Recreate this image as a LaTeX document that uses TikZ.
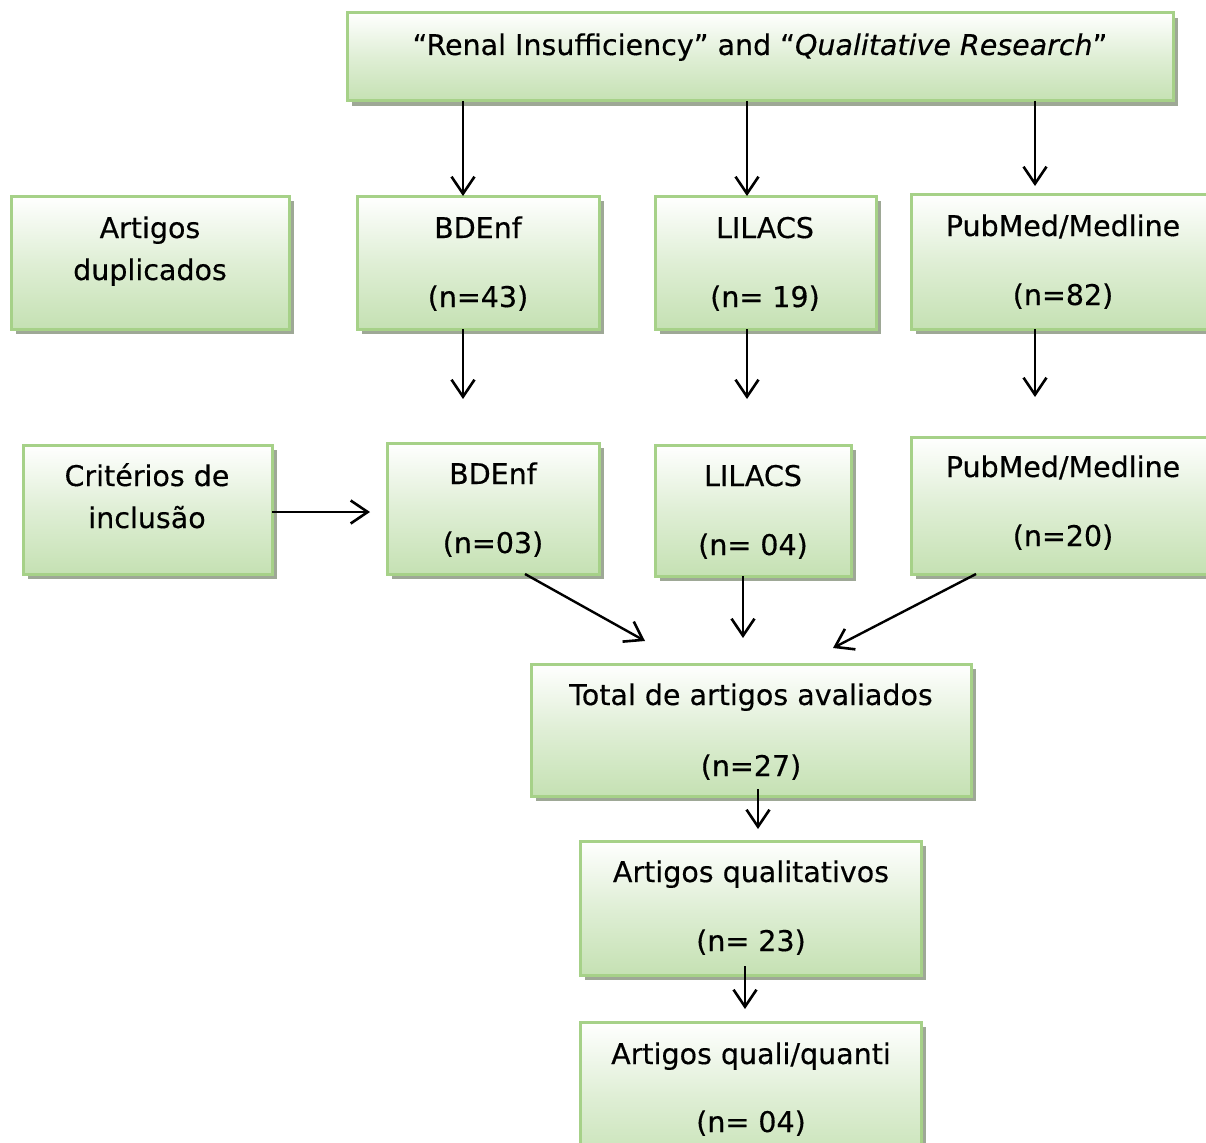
\documentclass[tikz,border=0pt]{standalone}
\usepackage{fontspec}
\setmainfont[FakeBold=0.4]{DejaVu Sans}
\usetikzlibrary{arrows.meta,calc}
\definecolor{boxline}{HTML}{A6D188}
\definecolor{boxfill}{HTML}{C5E1B3}
\definecolor{shadowc}{HTML}{9EA896}
\newcommand\flowbox[5]{%
  \fill[shadowc] (#2+5,#3+5) rectangle (#4+5,#5+5);
  \node[box, minimum width={#4-#2}, minimum height={#5-#3}] (#1) at ({(#2+#4)/2},{(#3+#5)/2}) {};
}
\tikzset{
  box/.style={draw=boxline, line width=3pt, top color=white, bottom color=boxfill, middle color=boxfill!55!white, inner sep=0pt, outer sep=0pt},
  txt/.style={font=\fontsize{28.5}{34}\selectfont, anchor=base, inner sep=0pt},
  arr/.style={line width=2.4pt, -{Straight Barb[length=17pt,width=23pt,line width=2.6pt]}}
}
\begin{document}
\begin{tikzpicture}[x=1pt,y=-1pt]
\useasboundingbox (0,0) rectangle (1206,1142);
\clip (0,0) rectangle (1206,1142);
% boxes
\flowbox{top}{347}{13}{1173}{101}
\flowbox{dup}{11}{196}{289}{329}
\flowbox{bd1}{357}{196}{599}{329}
\flowbox{li1}{655}{196}{876}{329}
\flowbox{pm1}{911}{194}{1216}{329}
\flowbox{crit}{23}{445}{272}{574}
\flowbox{bd2}{387}{443}{599}{574}
\flowbox{li2}{655}{445}{851}{576}
\flowbox{pm2}{911}{437}{1216}{574}
\flowbox{tot}{531}{664}{971}{796}
\flowbox{qual}{580}{841}{921}{975}
\flowbox{qq}{580}{1022}{921}{1170}
% texts
\node[txt] (topt) at (760,55) {“Renal Insufficiency” and “\textit{Qualitative Research}”};
\node[txt] (dupa) at (150,238) {Artigos};
\node[txt] (dupb) at (150,280) {duplicados};
\node[txt] (bd1a) at (478,238) {BDEnf};
\node[txt] (bd1b) at (478,307) {(n=43)};
\node[txt] (li1a) at (765,238) {LILACS};
\node[txt] (li1b) at (765,307) {(n= 19)};
\node[txt] (pm1a) at (1063,236) {PubMed/Medline};
\node[txt] (pm1b) at (1063,305) {(n=82)};
\node[txt] (crita) at (147,486) {Critérios de};
\node[txt] (critb) at (147,528) {inclusão};
\node[txt] (bd2a) at (493,484) {BDEnf};
\node[txt] (bd2b) at (493,553) {(n=03)};
\node[txt] (li2a) at (753,486) {LILACS};
\node[txt] (li2b) at (753,555) {(n= 04)};
\node[txt] (pm2a) at (1063,477) {PubMed/Medline};
\node[txt] (pm2b) at (1063,546) {(n=20)};
\node[txt] (tota) at (751,705) {Total de artigos avaliados};
\node[txt] (totb) at (751,776) {(n=27)};
\node[txt] (quala) at (751,882) {Artigos qualitativos};
\node[txt] (qualb) at (751,951) {(n= 23)};
\node[txt] (qqa) at (751,1064) {Artigos quali/quanti};
\node[txt] (qqb) at (751,1132) {(n= 04)};
% connector end points
\coordinate (c1) at (645,641);
\coordinate (c2) at (743,638);
\coordinate (c3) at (833,648);
% connectors
\draw[arr] (top.south -| 463,0) -- (bd1.north -| 463,0);
\draw[arr] (top.south -| 747,0) -- (li1.north -| 747,0);
\draw[arr] (top.south -| 1035,0) -- ([yshift=8pt]pm1.north -| 1035,0);
\draw[arr] (bd1.south -| 463,0) -- ([yshift=44pt]bd2.north -| 463,0);
\draw[arr] (li1.south -| 747,0) -- ([yshift=46pt]li2.north -| 747,0);
\draw[arr] (pm1.south -| 1035,0) -- ([yshift=40pt]pm2.north -| 1035,0);
\draw[arr] (crit.east |- 0,512) -- ([xshift=-17pt]bd2.west |- 0,512);
\draw[arr] (bd2.south -| 525,0) -- (c1);
\draw[arr] (li2.south -| 743,0) -- (c2);
\draw[arr] (pm2.south -| 976,0) -- (c3);
\draw[arr] ([yshift=7pt]tot.south -| 758,0) -- ([yshift=12pt]qual.north -| 758,0);
\draw[arr] ([yshift=9pt]qual.south -| 745,0) -- ([yshift=13pt]qq.north -| 745,0);
\end{tikzpicture}
\end{document}
